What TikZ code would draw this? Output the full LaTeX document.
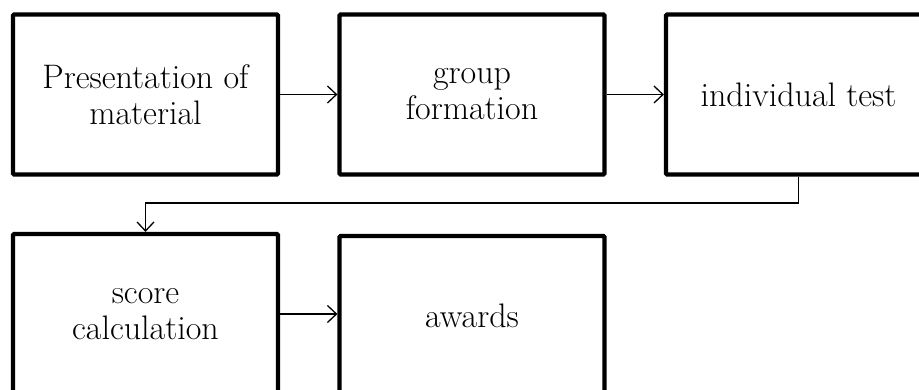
\documentclass[tikz,border=0pt]{standalone}
\usetikzlibrary{arrows.meta}
\begin{document}
\begin{tikzpicture}[x=1pt,y=-1pt,
  stepbox/.style={draw=black, line width=4.2pt, rounded corners=1pt,
    minimum width=265pt, minimum height=160pt, inner sep=0pt,
    align=center, font=\fontsize{34}{36}\selectfont},
  flow/.style={line width=1.3pt, -{Straight Barb[length=9pt,width=17pt,line width=1.3pt]}}]
  \useasboundingbox (0,0) rectangle (919,389);
  \clip (0,0) rectangle (919,389);
  % upper row
  \node[stepbox] (present) at (145.5,94.5) {Presentation of\\material};
  \node[stepbox] (group)   at (472,94.5)   {group\\formation};
  \node[stepbox] (test)    at (798.5,94.5) {individual test};
  % lower row
  \node[stepbox] (score)   at (145.5,314)  {score\\calculation};
  \node[stepbox] (awards)  at (472,316)    {awards};
  % connectors
  \draw[flow] (present.east) -- (group.west);
  \draw[flow] (group.east) -- (test.west);
  \coordinate (turn) at (798.5,203);
  \draw[flow] (test.south) -- (test.south |- turn) -| (score.north);
  \draw[flow] (score.east) -- (score.east -| awards.west);
\end{tikzpicture}
\end{document}
